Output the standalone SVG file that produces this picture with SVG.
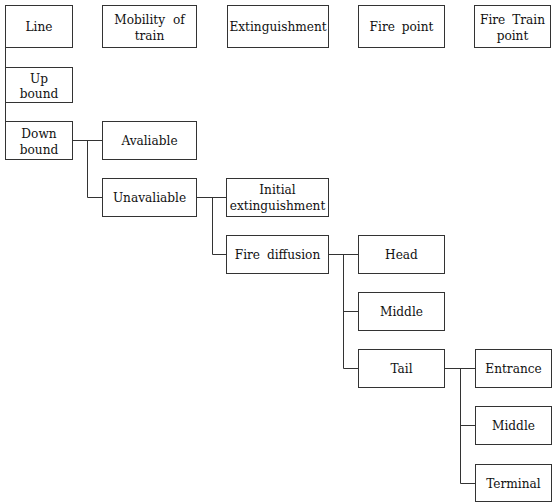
<svg xmlns="http://www.w3.org/2000/svg" width="552" height="502" viewBox="0 0 552 502">
<style>
rect{fill:#fff;stroke:#333;stroke-width:1}
text{font-family:'DejaVu Serif Condensed','DejaVu Serif',serif;font-size:13.5px;fill:#111;text-anchor:middle}
.c{fill:none;stroke:#333;stroke-width:1}
</style>
<rect x="0" y="0" width="552" height="502" style="stroke:none"/>
<g id="connectors">
<path class="c" d="M5.5 47.5V121.5"/>
<path class="c" d="M72 140.5H102M87.5 140.5V197.5H102"/>
<path class="c" d="M196 197.5H226M212.5 197.5V254.5H226"/>
<path class="c" d="M328 254.5H358M343.5 254.5V368.5H358M343.5 311.5H358"/>
<path class="c" d="M445 368.5H475M460.5 368.5V483.5H475M460.5 425.5H475"/>
</g>
<g id="n-line"><rect x="5.5" y="5.5" width="67" height="42"/><text x="39" y="31">Line</text></g>
<g id="n-mobility"><rect x="102.5" y="5.5" width="94" height="42"/><text x="149.5" y="24" word-spacing="4">Mobility of</text><text x="149.5" y="40">train</text></g>
<g id="n-ext"><rect x="227.5" y="5.5" width="101" height="42"/><text x="278" y="31">Extinguishment</text></g>
<g id="n-firepoint"><rect x="358.5" y="5.5" width="86" height="42"/><text x="401.5" y="31" word-spacing="3">Fire point</text></g>
<g id="n-firetrain"><rect x="474.5" y="5.5" width="76" height="42"/><text x="512.5" y="24" word-spacing="3">Fire Train</text><text x="512.5" y="40">point</text></g>
<g id="n-up"><rect x="5.5" y="67.5" width="67" height="35"/><text x="39" y="83">Up</text><text x="39" y="98">bound</text></g>
<g id="n-down"><rect x="5.5" y="121.5" width="67" height="38"/><text x="39" y="138">Down</text><text x="39" y="154">bound</text></g>
<g id="n-avail"><rect x="102.5" y="121.5" width="94" height="38"/><text x="149.5" y="145">Avaliable</text></g>
<g id="n-unavail"><rect x="102.5" y="178.5" width="94" height="38"/><text x="149.5" y="202">Unavaliable</text></g>
<g id="n-initial"><rect x="226.5" y="178.5" width="102" height="38"/><text x="277.5" y="194">Initial</text><text x="277.5" y="210">extinguishment</text></g>
<g id="n-diffusion"><rect x="226.5" y="235.5" width="102" height="38"/><text x="277.5" y="259" word-spacing="3">Fire diffusion</text></g>
<g id="n-head"><rect x="358.5" y="235.5" width="86" height="38"/><text x="401.5" y="259">Head</text></g>
<g id="n-middle1"><rect x="358.5" y="292.5" width="86" height="38"/><text x="401.5" y="316">Middle</text></g>
<g id="n-tail"><rect x="358.5" y="349.5" width="86" height="38"/><text x="401.5" y="373">Tail</text></g>
<g id="n-entrance"><rect x="475.5" y="349.5" width="76" height="38"/><text x="513.5" y="373">Entrance</text></g>
<g id="n-middle2"><rect x="475.5" y="406.5" width="76" height="38"/><text x="513.5" y="430">Middle</text></g>
<g id="n-terminal"><rect x="475.5" y="464.5" width="76" height="37"/><text x="513.5" y="488">Terminal</text></g>
</svg>
